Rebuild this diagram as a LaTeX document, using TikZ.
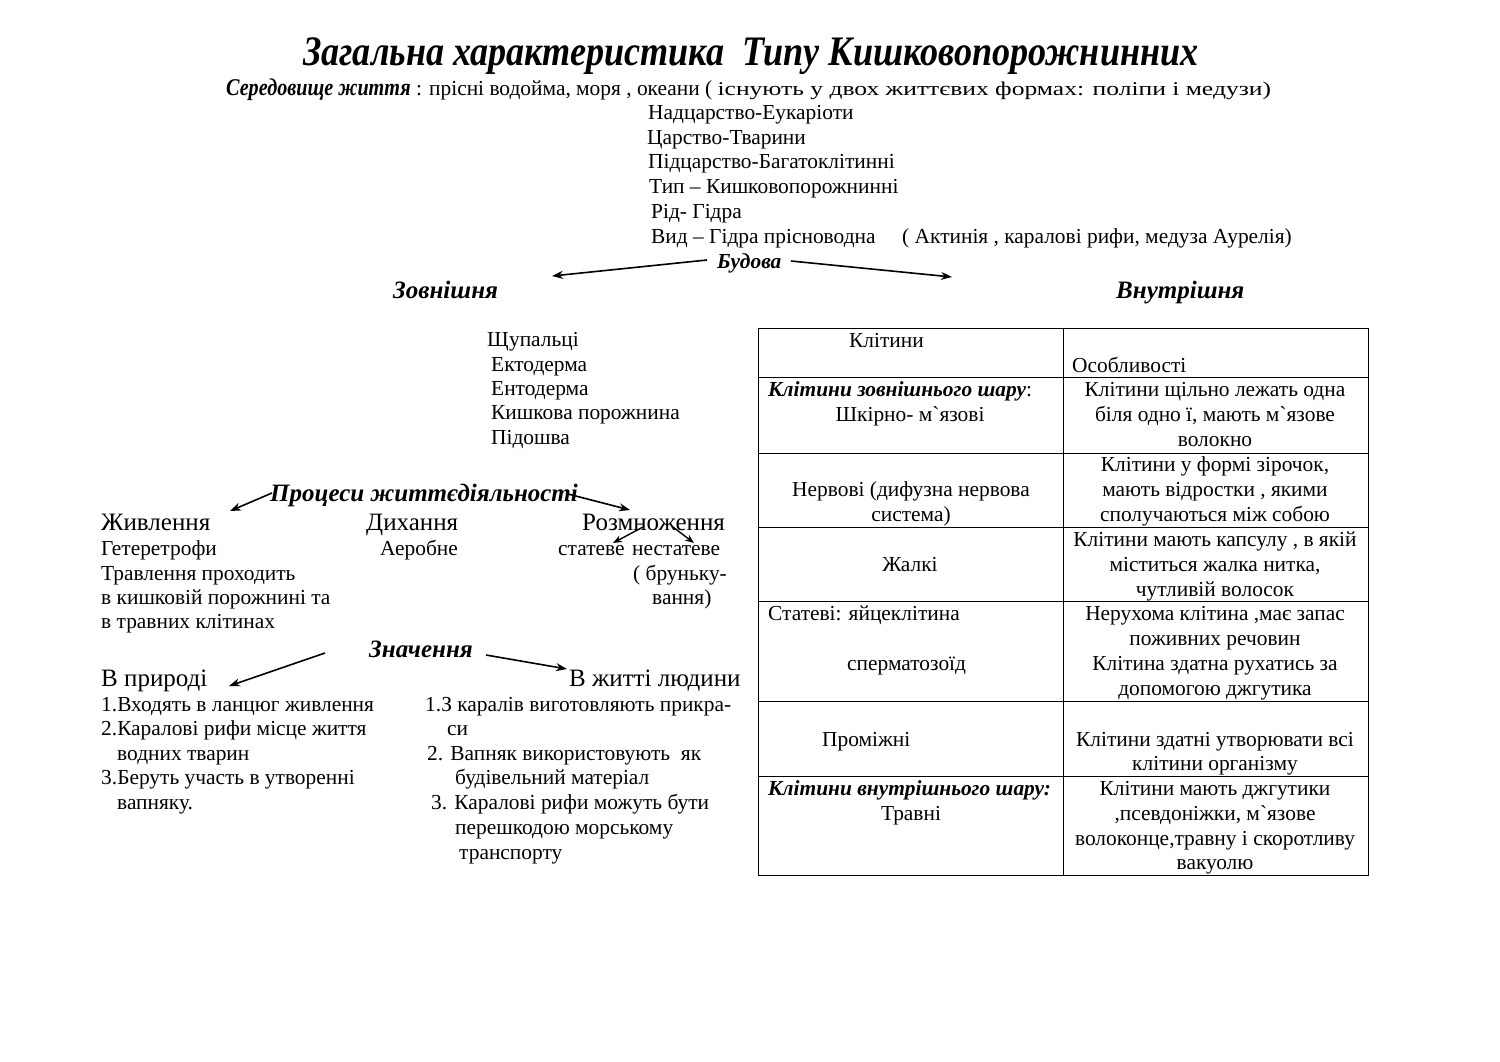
\documentclass[tikz,border=0pt]{standalone}
\usepackage{fontspec}
\usepackage{graphicx}
\setmainfont{Liberation Serif}
\newfontfamily\condf{Liberation Serif}[FakeStretch=0.86]
\newfontfamily\condg{Liberation Serif}[FakeStretch=0.84]
\newfontfamily\nolig{Liberation Serif}[Ligatures=ResetAll]
\usetikzlibrary{arrows.meta}
\newcommand{\bsz}{\fontsize{21.4}{24.5}\selectfont}
\newcommand{\lsz}{\fontsize{25}{28}\selectfont}
\newcommand{\ssz}{\fontsize{19.5}{22}\selectfont}
\newcommand{\bi}{\bfseries\itshape}
\newcommand{\bt}{{\nolig\symbol{96}}}
\tikzset{
  tx/.style={anchor=base west, inner sep=0pt, font=\bsz},
  tc/.style={anchor=base, inner sep=0pt, font=\bsz},
  big/.style={anchor=base west, inner sep=0pt, font=\lsz},
  hd/.style={anchor=base west, inner sep=0pt, font=\bsz\bi},
  hdl/.style={anchor=base west, inner sep=0pt, font=\lsz\bi},
  arr/.style={line width=1.6pt, -{Stealth[length=11pt,width=8pt]}},
  sarr/.style={line width=1.4pt, -{Stealth[length=9pt,width=7pt]}},
  grid/.style={line width=1pt}
}
\begin{document}
\begin{tikzpicture}[x=1pt,y=-1pt]
\useasboundingbox[fill=white] (0,0) rectangle (1500,1061);
% title
\node[anchor=base west, inner sep=0pt, font=\fontsize{42}{46}\selectfont\condf\bi] (title) at (303,65) {Загальна характеристика\ \ Типу Кишковопорожнинних};
\node[tx] (sub) at (226,95) {{\fontsize{24}{26}\selectfont\condg\bi Середовище життя} : прісні водойма, моря , океани ( {\ssz\scalebox{1.31}[1]{існують у двох життєвих формах: поліпи і медузи)}}};
% taxonomy
\node[tx] (k1) at (648,119) {Надцарство-Еукаріоти};
\node[tx] (k2) at (647,144) {Царство-Тварини};
\node[tx] (k3) at (648,168) {Підцарство-Багатоклітинні};
\node[tx] (k4) at (649,193) {Тип – Кишковопорожнинні};
\node[tx] (k5) at (651,218) {Рід- Гідра};
\node[tx] (k6) at (651,243) {Вид – Гідра прісноводна};
\node[tx] (k6b) at (902,243) {( Актинія , каралові рифи, медуза Аурелія)};
% budova
\node[hd] (budova) at (717,268) {Будова};
\node[hdl] (zovn) at (393,298) {Зовнішня};
\node[hdl] (vnutr) at (1116,298) {Внутрішня};
\coordinate (b1) at (707,260); \coordinate (b1e) at (552,276);
\coordinate (b2) at (791,261); \coordinate (b2e) at (952,277);
\draw[arr] (b1) -- (b1e);
\draw[arr] (b2) -- (b2e);
% external list
\node[tx] (e1) at (487,346) {Щупальці};
\node[tx] (e2) at (491,371) {Ектодерма};
\node[tx] (e3) at (491,395) {Ентодерма};
\node[tx] (e4) at (491,419) {Кишкова порожнина};
\node[tx] (e5) at (491,444) {Підошва};
% processes
\node[hdl] (proc) at (270,501) {Процеси життєдіяльності};
\node[big] (zhyv) at (101,530) {Живлення};
\node[big] (dykh) at (366,530) {Дихання};
\node[big] (rozm) at (582,530) {Розмноження};
\coordinate (p1) at (272,493); \coordinate (p1e) at (230,511);
\coordinate (p2) at (568,494); \coordinate (p2e) at (630,510);
\draw[arr] (p1) -- (p1e);
\draw[arr] (p2) -- (p2e);
\coordinate (r1) at (643,527); \coordinate (r1e) at (613,543);
\coordinate (r2) at (673,527); \coordinate (r2e) at (694,543);
\draw[sarr] (r1) -- (r1e);
\draw[sarr] (r2) -- (r2e);
\node[tx] (z1) at (101,555) {Гетеретрофи};
\node[tx] (z2) at (101,580) {Травлення проходить};
\node[tx] (z3) at (101,604) {в кишковій порожнині та};
\node[tx] (z4) at (101,628) {в травних клітинах};
\node[tx] (d1) at (380,555) {Аеробне};
\node[tx] (s1) at (558,555) {статеве};
\node[tx] (s2) at (632,555) {нестатеве};
\node[tx] (s3) at (633,580) {( бруньку-};
\node[tx] (s4) at (652,604) {вання)};
% znachennya
\node[hdl] (znach) at (369,657) {Значення};
\node[big] (pryr) at (101,686) {В природі};
\node[big] (lyud) at (569,686) {В житті людини};
\coordinate (n1) at (325,653); \coordinate (n1e) at (229,686);
\coordinate (n2) at (486,655); \coordinate (n2e) at (567,669);
\draw[arr] (n1) -- (n1e);
\draw[arr] (n2) -- (n2e);
\node[tx] (a1) at (101,711) {1.Входять в ланцюг живлення};
\node[tx] (a2) at (101,735) {2.Каралові рифи місце життя};
\node[tx] (a3) at (117,760) {водних тварин};
\node[tx] (a4) at (101,784) {3.Беруть участь в утворенні};
\node[tx] (a5) at (117,809) {вапняку.};
\node[tx] (c1) at (425,711) {1.З каралів виготовляють прикра-};
\node[tx] (c2) at (447,735) {си};
\node[tx] (c3) at (427,760) {2. Вапняк використовують\ \ як};
\node[tx] (c4) at (455,784) {будівельний матеріал};
\node[tx] (c5) at (431,809) {3. Каралові рифи можуть бути};
\node[tx] (c6) at (455,834) {перешкодою морському};
\node[tx] (c7) at (459,859) {транспорту};
% table
\draw[grid] (758,328) rectangle (1368,875);
\draw[grid] (1063,328) -- (1063,875);
\foreach \yy in {377,453,527,601,701,776} \draw[grid] (758,\yy) -- (1368,\yy);
\node[tx] (h1) at (849,347) {Клітини};
\node[tx] (h2) at (1072,372) {Особливості};
% row1
\node[tx] (l1a) at (768,396) {{\bi Клітини зовнішнього шару}:};
\node[tc] (l1b) at (910,421) {Шкірно- м\bt язові};
\node[tc] (r1a) at (1215,396) {Клітини щільно лежать одна};
\node[tc] (r1b) at (1215,421) {біля одно ї, мають м\bt язове};
\node[tc] (r1c) at (1215,446) {волокно};
% row2
\node[tc] (l2a) at (911,496) {Нервові (дифузна нервова};
\node[tc] (l2b) at (911,521) {система)};
\node[tc] (r2a) at (1215,471) {Клітини у формі зірочок,};
\node[tc] (r2b) at (1215,496) {мають відростки , якими};
\node[tc] (r2c) at (1215,521) {сполучаються між собою};
% row3
\node[tc] (l3a) at (910,571) {Жалкі};
\node[tc] (r3a) at (1215,546) {Клітини мають капсулу , в якій};
\node[tc] (r3b) at (1215,571) {міститься жалка нитка,};
\node[tc] (r3c) at (1215,596) {чутливій волосок};
% row4
\node[tx] (l4a) at (768,620) {Статеві: яйцеклітина};
\node[tx] (l4b) at (847,670) {сперматозоїд};
\node[tc] (r4a) at (1215,620) {Нерухома клітина ,має запас};
\node[tc] (r4b) at (1215,645) {поживних речовин};
\node[tc] (r4c) at (1215,670) {Клітина здатна рухатись за};
\node[tc] (r4d) at (1215,695) {допомогою джгутика};
% row5
\node[tx] (l5a) at (822,746) {Проміжні};
\node[tc] (r5a) at (1215,746) {Клітини здатні утворювати всі};
\node[tc] (r5b) at (1215,770) {клітини організму};
% row6
\node[tx] (l6a) at (768,795) {{\bi Клітини внутрішнього шару:}};
\node[tc] (l6b) at (911,820) {Травні};
\node[tc] (r6a) at (1215,795) {Клітини мають джгутики};
\node[tc] (r6b) at (1215,820) {,псевдоніжки, м\bt язове};
\node[tc] (r6c) at (1215,845) {волоконце,травну і скоротливу};
\node[tc] (r6d) at (1215,869) {вакуолю};
\end{tikzpicture}
\end{document}
